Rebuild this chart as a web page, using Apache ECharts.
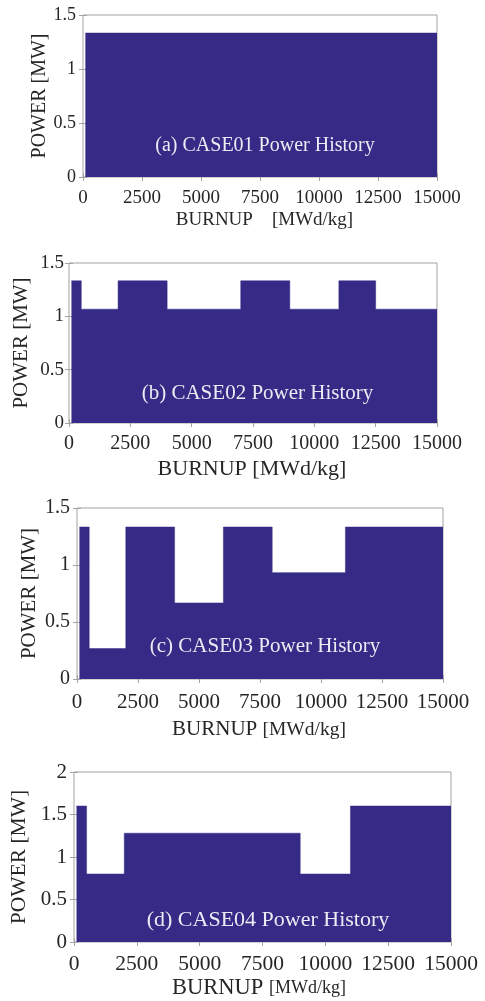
<!DOCTYPE html>
<html>
<head>
<meta charset="utf-8">
<script src="https://cdn.jsdelivr.net/npm/echarts@6/dist/echarts.min.js"></script>
<style>
  html, body { margin: 0; padding: 0; background: #ffffff; }
  #chart { width: 485px; height: 1001px; }
</style>
</head>
<body>
<div id="chart"></div>
<script>
// Power history per case: each burnup value starts a segment held at the matching power;
// the last entry closes the history at end of life.
const burnupCase01 = [100, 15000];
const powerCase01  = [1.333, 1.333];

const burnupCase02 = [100, 500, 2000, 4000, 7000, 9000, 11000, 12500, 15000];
const powerCase02  = [1.333, 1.067, 1.333, 1.067, 1.333, 1.067, 1.333, 1.067, 1.067];

const burnupCase03 = [100, 500, 2000, 4000, 6000, 8000, 11000, 15000];
const powerCase03  = [1.333, 0.267, 1.333, 0.667, 1.333, 0.933, 1.333, 1.333];

const burnupCase04 = [100, 500, 2000, 9000, 11000, 15000];
const powerCase04  = [1.6, 0.8, 1.28, 0.8, 1.6, 1.6];

const panelTitles = [
  '(a) CASE01 Power History',
  '(b) CASE02 Power History',
  '(c) CASE03 Power History',
  '(d) CASE04 Power History'
];
const xTicks = [0, 2500, 5000, 7500, 10000, 12500, 15000];
const yMaxes = [1.5, 1.5, 1.5, 2];
const yAxisTitle = 'POWER [MW]';
const xAxisTitleMain = 'BURNUP';
const xAxisTitleUnit = '[MWd/kg]';

const cases = [
  [burnupCase01, powerCase01],
  [burnupCase02, powerCase02],
  [burnupCase03, powerCase03],
  [burnupCase04, powerCase04]
];

const FONT = '"Liberation Serif", "DejaVu Serif", serif';
const TEXT = '#262626';
const FRAME = '#a3a3a3';
const FILL = '#352a86';

// Per-panel layout (plot box in pixels and type sizes)
const layout = [
  { left: 83, top: 15,  width: 354, height: 162, xFont: 19, yFont: 18, xGap: 34, yGap: 33, yName: 20, nameMain: 19, nameUnit: 19, sep: '    ', namePad: [0, 0, 0, 9], xMargin: 12, yMargin: 7, tx: 265,   ty: 145.5, tFont: 20 },
  { left: 69, top: 263, width: 368, height: 160, xFont: 20, yFont: 19, xGap: 35, yGap: 37, yName: 21, nameMain: 22, nameUnit: 22, sep: ' ',    namePad: [0, 2, 0, 0], xMargin: 11, yMargin: 5, tx: 257.5, ty: 393,   tFont: 21 },
  { left: 77, top: 508, width: 366, height: 171, xFont: 21, yFont: 20, xGap: 40, yGap: 37, yName: 21, nameMain: 21, nameUnit: 19.5, sep: ' ',  namePad: [0, 2, 0, 0], xMargin: 13, yMargin: 7, tx: 265,   ty: 646.5, tFont: 21 },
  { left: 73, top: 772, width: 378, height: 171, xFont: 21.5, yFont: 21, xGap: 35, yGap: 44, yName: 21.5, nameMain: 22.5, nameUnit: 18, sep: ' ', namePad: [0, 7, 0, 0], xMargin: 11, yMargin: 7, tx: 268, ty: 920, tFont: 22 }
];

const plainNumber = v => String(v);

const grid = [], xAxis = [], yAxis = [], series = [], graphic = [];

layout.forEach((L, i) => {
  grid.push({
    left: L.left, top: L.top, width: L.width, height: L.height,
    show: true, borderColor: FRAME, borderWidth: 1, backgroundColor: 'transparent'
  });

  const xBase = {
    gridIndex: i, type: 'value', min: xTicks[0], max: xTicks[xTicks.length - 1],
    interval: xTicks[1] - xTicks[0],
    splitLine: { show: false },
    axisLine: { show: false },
    axisTick: { show: true, inside: true, length: 4, lineStyle: { color: FRAME } }
  };
  xAxis.push(Object.assign({}, xBase, {
    position: 'bottom',
    axisLabel: { color: TEXT, fontFamily: FONT, fontSize: L.xFont, margin: L.xMargin, formatter: plainNumber },
    name: '{m|' + xAxisTitleMain + '}' + L.sep + '{u|' + xAxisTitleUnit + '}',
    nameLocation: 'middle',
    nameGap: L.xGap,
    nameTextStyle: {
      color: TEXT, fontFamily: FONT, fontSize: L.nameMain,
      padding: L.namePad,
      rich: {
        m: { color: TEXT, fontFamily: FONT, fontSize: L.nameMain },
        u: { color: TEXT, fontFamily: FONT, fontSize: L.nameUnit }
      }
    }
  }));
  xAxis.push(Object.assign({}, xBase, { position: 'top', axisLabel: { show: false } }));

  const yBase = {
    gridIndex: i, type: 'value', min: 0, max: yMaxes[i], interval: 0.5,
    splitLine: { show: false },
    axisLine: { show: false },
    axisTick: { show: true, inside: true, length: 4, lineStyle: { color: FRAME } }
  };
  yAxis.push(Object.assign({}, yBase, {
    position: 'left',
    axisLabel: { color: TEXT, fontFamily: FONT, fontSize: L.yFont, margin: L.yMargin, formatter: plainNumber },
    name: yAxisTitle,
    nameLocation: 'middle',
    nameRotate: 90,
    nameGap: L.yGap,
    nameMoveOverlap: false,
    nameTextStyle: { color: TEXT, fontFamily: FONT, fontSize: L.yName }
  }));
  yAxis.push(Object.assign({}, yBase, { position: 'right', axisLabel: { show: false } }));

  const [burnup, power] = cases[i];
  series.push({
    type: 'line',
    name: panelTitles[i],
    xAxisIndex: 2 * i,
    yAxisIndex: 2 * i,
    step: 'end',
    showSymbol: false,
    silent: true,
    data: burnup.map((b, k) => [b, power[k]]),
    lineStyle: { color: FILL, width: 0.5 },
    areaStyle: { color: FILL, opacity: 1 },
    animation: false
  });

  graphic.push({
    type: 'text', x: L.tx, y: L.ty, z: 100,
    style: {
      text: panelTitles[i], fill: '#ecebf4',
      font: L.tFont + 'px ' + FONT,
      align: 'center', verticalAlign: 'middle'
    }
  });
});

const chart = echarts.init(document.getElementById('chart'), null, { renderer: 'canvas' });
chart.setOption({
  backgroundColor: '#ffffff',
  animation: false,
  grid, xAxis, yAxis, series, graphic
});
</script>
</body>
</html>
